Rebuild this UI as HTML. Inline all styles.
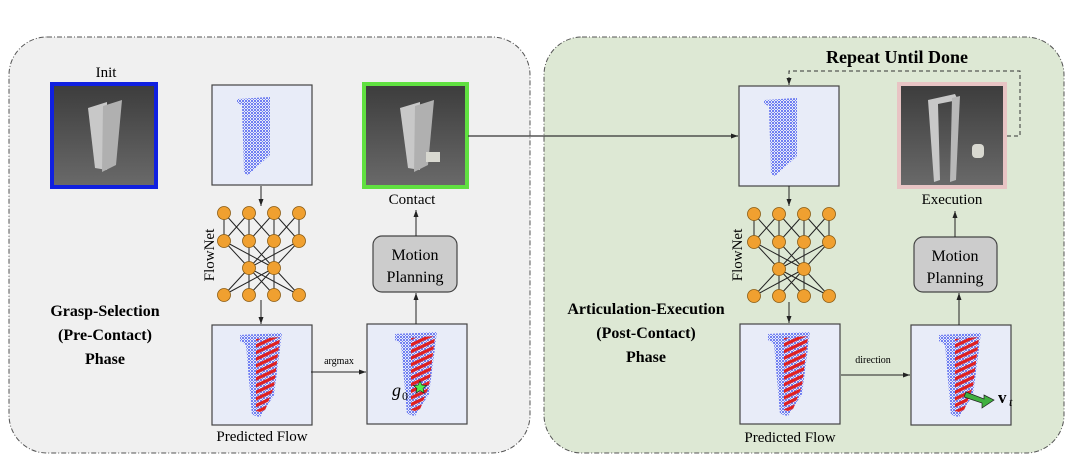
<!DOCTYPE html>
<html><head><meta charset="utf-8"><style>
html,body{margin:0;padding:0;background:#fff;}
svg{display:block;font-family:"Liberation Serif",serif;}
</style></head><body>
<svg width="1080" height="468" viewBox="0 0 1080 468" xmlns="http://www.w3.org/2000/svg">
<defs>
<pattern id="dots" width="3" height="3" patternUnits="userSpaceOnUse">
<circle cx="1" cy="1" r="1" fill="#4a5cf0"/><circle cx="2.5" cy="2.5" r="0.6" fill="#6f80f4"/>
</pattern>
<pattern id="red" width="6" height="6" patternUnits="userSpaceOnUse" patternTransform="rotate(-25)">
<rect width="6" height="3.2" fill="#e02020"/>
</pattern>
<linearGradient id="gd" x1="0" y1="0" x2="0" y2="1"><stop offset="0" stop-color="#3c3c3c"/><stop offset="1" stop-color="#6a6a6a"/></linearGradient>
<marker id="ah" markerWidth="8" markerHeight="8" refX="7" refY="4" orient="auto" markerUnits="userSpaceOnUse"><path d="M0,1.5 L7,4 L0,6.5z" fill="#222"/></marker>
<g id="net">
<g stroke="#222" stroke-width="1" fill="none">
<path d="M0,0 L25,28 M0,0 L0,28 M25,0 L0,28 M25,0 L50,28 M50,0 L25,28 M50,0 L75,28 M75,0 L50,28 M75,0 L75,28 M25,0 L25,28 M50,0 L50,28"/>
<path d="M0,28 L25,55 M0,28 L50,55 M25,28 L25,55 M25,28 L50,55 M50,28 L25,55 M50,28 L50,55 M75,28 L25,55 M75,28 L50,55"/>
<path d="M25,55 L0,82 M25,55 L50,82 M25,55 L75,82 M25,55 L25,82 M50,55 L0,82 M50,55 L25,82 M50,55 L75,82 M50,55 L50,82"/>
</g>
<g fill="#f0a030" stroke="#8a5a10" stroke-width="0.8">
<circle cx="0" cy="0" r="6.5"/><circle cx="25" cy="0" r="6.5"/><circle cx="50" cy="0" r="6.5"/><circle cx="75" cy="0" r="6.5"/>
<circle cx="0" cy="28" r="6.5"/><circle cx="25" cy="28" r="6.5"/><circle cx="50" cy="28" r="6.5"/><circle cx="75" cy="28" r="6.5"/>
<circle cx="25" cy="55" r="6.5"/><circle cx="50" cy="55" r="6.5"/>
<circle cx="0" cy="82" r="6.5"/><circle cx="25" cy="82" r="6.5"/><circle cx="50" cy="82" r="6.5"/><circle cx="75" cy="82" r="6.5"/>
</g>
</g>
<g id="cloud">
<rect x="0" y="0" width="100" height="100" fill="#e8ecf8" stroke="#444" stroke-width="1.2"/>
<path d="M25,14 L58,12 L58,70 L36,90 L32,88 L30,20 L25,18z" fill="url(#dots)"/>
</g>
<g id="flow">
<rect x="0" y="0" width="100" height="100" fill="#e8ecf8" stroke="#444" stroke-width="1.2"/>
<path d="M28,10 L70,8 L62,70 L48,92 L40,90 L34,20 L28,16z" fill="url(#dots)"/>
<path d="M44,14 L68,12 L62,62 L52,88 L44,86z" fill="url(#red)"/>
</g>
</defs>

<rect x="9" y="37" width="521" height="416" rx="38" fill="#f0f0f0" stroke="#555" stroke-width="1" stroke-dasharray="5,2,1,2"/>
<rect x="544" y="37" width="520" height="416" rx="38" fill="#dde8d4" stroke="#555" stroke-width="1" stroke-dasharray="5,2,1,2"/>

<text x="106" y="77" font-size="15" text-anchor="middle">Init</text>
<rect x="52" y="84" width="104" height="103" fill="url(#gd)" stroke="#1020e0" stroke-width="4"/>
<path d="M88,108 L107,102 L107,170 L95,168z" fill="#c8c8c8"/>
<path d="M103,106 L122,100 L116,165 L102,172z" fill="#b0b0b0"/>

<use href="#cloud" x="212" y="85"/>
<line x1="261" y1="186" x2="261" y2="206" stroke="#222" marker-end="url(#ah)"/>
<use href="#net" x="224" y="213"/>
<text transform="translate(214,255) rotate(-90)" font-size="15" text-anchor="middle">FlowNet</text>
<line x1="261" y1="300" x2="261" y2="324" stroke="#222" marker-end="url(#ah)"/>
<use href="#flow" x="212" y="325"/>
<text x="262" y="441" font-size="15" text-anchor="middle">Predicted Flow</text>
<line x1="311" y1="372" x2="366" y2="372" stroke="#222" marker-end="url(#ah)"/>
<text x="339" y="364" font-size="10" text-anchor="middle">argmax</text>
<use href="#flow" x="367" y="324"/>
<text x="392" y="396" font-size="18" font-style="italic">g</text><text x="402" y="400" font-size="12">0</text>
<path d="M420,381 l2,4 4.5,0.5 -3.4,3 1,4.5 -4.1,-2.3 -4.1,2.3 1,-4.5 -3.4,-3 4.5,-0.5z" fill="#50f050" stroke="#222" stroke-width="0.7"/>
<line x1="416" y1="324" x2="416" y2="293" stroke="#222" marker-end="url(#ah)"/>
<rect x="373" y="236" width="84" height="56" rx="9" fill="#cccccc" stroke="#444" stroke-width="1.2"/>
<text x="415" y="260" font-size="16" text-anchor="middle">Motion</text>
<text x="415" y="282" font-size="16" text-anchor="middle">Planning</text>
<line x1="416" y1="236" x2="416" y2="210" stroke="#222" marker-end="url(#ah)"/>
<text x="412" y="204" font-size="15" text-anchor="middle">Contact</text>
<rect x="364" y="84" width="103" height="103" fill="url(#gd)" stroke="#60e040" stroke-width="4"/>
<path d="M400,108 L420,102 L420,170 L408,168z" fill="#c8c8c8"/>
<path d="M415,106 L434,100 L428,165 L414,172z" fill="#b0b0b0"/>
<rect x="426" y="152" width="14" height="10" fill="#d8d8d0"/>
<text x="105" y="316" font-size="16" font-weight="bold" text-anchor="middle">Grasp-Selection</text>
<text x="105" y="340" font-size="16" font-weight="bold" text-anchor="middle">(Pre-Contact)</text>
<text x="105" y="364" font-size="16" font-weight="bold" text-anchor="middle">Phase</text>

<line x1="468" y1="136" x2="738" y2="136" stroke="#333" stroke-width="1.2" marker-end="url(#ah)"/>

<text x="897" y="63" font-size="18" font-weight="bold" text-anchor="middle">Repeat Until Done</text>
<path d="M1007,136 L1020,136 L1020,71 L789,71 L789,85" fill="none" stroke="#333" stroke-width="1" stroke-dasharray="4,3" marker-end="url(#ah)"/>
<use href="#cloud" x="739" y="86"/>
<line x1="789" y1="186" x2="789" y2="206" stroke="#222" marker-end="url(#ah)"/>
<use href="#net" x="754" y="214"/>
<text transform="translate(742,255) rotate(-90)" font-size="15" text-anchor="middle">FlowNet</text>
<line x1="789" y1="302" x2="789" y2="323" stroke="#222" marker-end="url(#ah)"/>
<use href="#flow" x="740" y="324"/>
<text x="790" y="442" font-size="15" text-anchor="middle">Predicted Flow</text>
<line x1="841" y1="375" x2="910" y2="375" stroke="#222" marker-end="url(#ah)"/>
<text x="873" y="363" font-size="10" text-anchor="middle">direction</text>
<use href="#flow" x="911" y="325"/>
<path d="M966,392 L984,399 L984,395 L994,400 L982,408 L982,403 L964,397z" fill="#40b040" stroke="#222" stroke-width="0.7"/>
<text x="998" y="403" font-size="17" font-weight="bold">v</text><text x="1009" y="406" font-size="12" font-style="italic">t</text>
<line x1="959" y1="325" x2="959" y2="293" stroke="#222" marker-end="url(#ah)"/>
<rect x="914" y="237" width="83" height="55" rx="9" fill="#cccccc" stroke="#444" stroke-width="1.2"/>
<text x="955" y="261" font-size="16" text-anchor="middle">Motion</text>
<text x="955" y="283" font-size="16" text-anchor="middle">Planning</text>
<line x1="955" y1="237" x2="955" y2="211" stroke="#222" marker-end="url(#ah)"/>
<text x="952" y="204" font-size="15" text-anchor="middle">Execution</text>
<rect x="899" y="84" width="106" height="103" fill="url(#gd)" stroke="#e8c4c4" stroke-width="4"/>
<path d="M928,100 L955,94 L958,100 L938,104 L940,180 L934,182z" fill="#c8c8c8"/>
<path d="M952,98 L960,96 L956,180 L950,182z" fill="#b8b8b8"/>
<rect x="972" y="144" width="12" height="14" rx="4" fill="#d8d8d0"/>
<text x="646" y="314" font-size="16" font-weight="bold" text-anchor="middle">Articulation-Execution</text>
<text x="646" y="338" font-size="16" font-weight="bold" text-anchor="middle">(Post-Contact)</text>
<text x="646" y="362" font-size="16" font-weight="bold" text-anchor="middle">Phase</text>
</svg>
</body></html>
